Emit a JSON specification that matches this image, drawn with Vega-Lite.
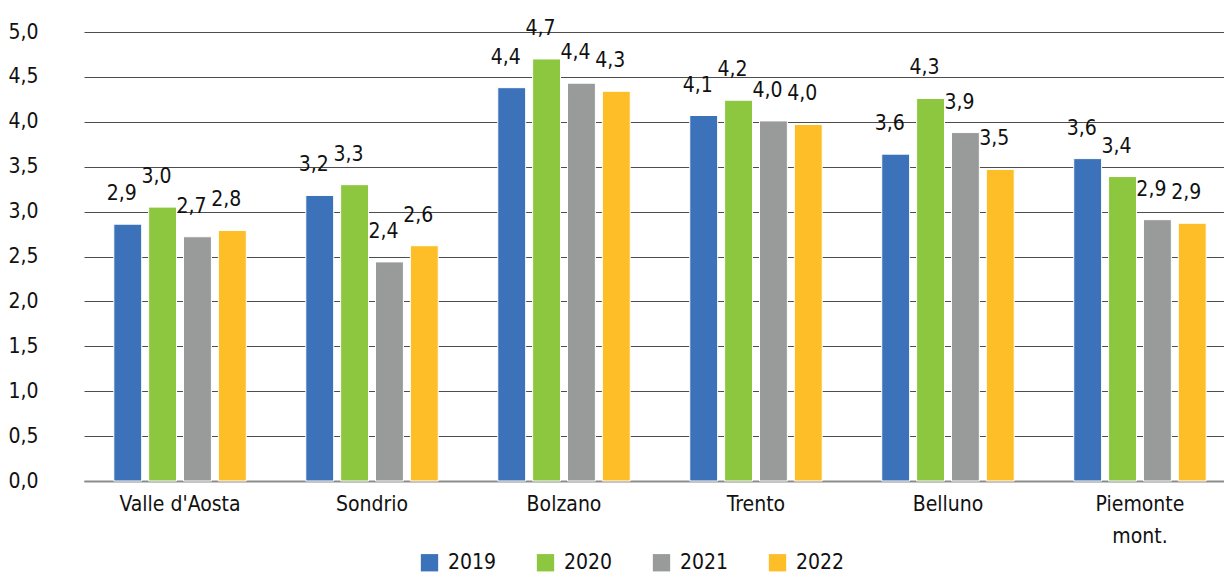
{
  "$schema": "https://vega.github.io/schema/vega-lite/v6.json",
  "width": 1140,
  "height": 449,
  "autosize": {"type": "none"},
  "padding": {"left": 84, "top": 32, "right": 0, "bottom": 93},
  "config": {
    "locale": {"number": {"decimal": ",", "thousands": ".", "grouping": [3], "currency": ["", " €"]}},
    "font": "DejaVu Sans Condensed, sans-serif",
    "view": {"stroke": null}
  },
  "data": {
    "values": [
      {"area": "Valle d'Aosta", "year": "2019", "value": 2.86},
      {"area": "Valle d'Aosta", "year": "2020", "value": 3.05},
      {"area": "Valle d'Aosta", "year": "2021", "value": 2.72},
      {"area": "Valle d'Aosta", "year": "2022", "value": 2.79},
      {"area": "Sondrio", "year": "2019", "value": 3.18},
      {"area": "Sondrio", "year": "2020", "value": 3.30},
      {"area": "Sondrio", "year": "2021", "value": 2.44},
      {"area": "Sondrio", "year": "2022", "value": 2.62},
      {"area": "Bolzano", "year": "2019", "value": 4.38},
      {"area": "Bolzano", "year": "2020", "value": 4.70},
      {"area": "Bolzano", "year": "2021", "value": 4.43},
      {"area": "Bolzano", "year": "2022", "value": 4.34},
      {"area": "Trento", "year": "2019", "value": 4.07},
      {"area": "Trento", "year": "2020", "value": 4.24},
      {"area": "Trento", "year": "2021", "value": 4.01},
      {"area": "Trento", "year": "2022", "value": 3.97},
      {"area": "Belluno", "year": "2019", "value": 3.64},
      {"area": "Belluno", "year": "2020", "value": 4.26},
      {"area": "Belluno", "year": "2021", "value": 3.88},
      {"area": "Belluno", "year": "2022", "value": 3.47},
      {"area": "Piemonte mont.", "year": "2019", "value": 3.59},
      {"area": "Piemonte mont.", "year": "2020", "value": 3.39},
      {"area": "Piemonte mont.", "year": "2021", "value": 2.91},
      {"area": "Piemonte mont.", "year": "2022", "value": 2.87}
    ]
  },
  "encoding": {
    "x": {
      "field": "area", "type": "nominal", "sort": null, "title": null,
      "scale": {"paddingInner": 0.31, "paddingOuter": 0.124, "align": 0.626},
      "axis": {
        "labelAngle": 0, "labelFontSize": 21, "labelColor": "#111111",
        "labelPadding": 12, "ticks": false, "domainColor": "#8c8c8c", "domainWidth": 2,
        "labelLineHeight": 32, "labelBaseline": "top",
        "labelExpr": "datum.label == 'Piemonte mont.' ? ['Piemonte', 'mont.'] : datum.label"
      }
    },
    "xOffset": {"field": "year", "type": "nominal", "scale": {"paddingInner": 0.2, "paddingOuter": 0}},
    "y": {
      "field": "value", "type": "quantitative", "title": null,
      "scale": {"domain": [0, 5], "nice": false},
      "axis": {
        "values": [0, 0.5, 1, 1.5, 2, 2.5, 3, 3.5, 4, 4.5, 5],
        "format": ".1f", "labelFontSize": 21, "labelColor": "#111111",
        "labelPadding": 46, "ticks": false, "domain": false,
        "gridColor": "#4d4d4d", "gridWidth": 1
      }
    }
  },
  "layer": [
    {
      "mark": {"type": "bar", "stroke": "white", "strokeWidth": 1},
      "encoding": {
        "color": {
          "field": "year", "type": "nominal", "title": null,
          "scale": {"domain": ["2019", "2020", "2021", "2022"], "range": ["#3C72BA", "#8DC63F", "#999B9B", "#FDBE27"]},
          "legend": {
            "orient": "none", "direction": "horizontal", "legendX": 335, "legendY": 520,
            "symbolType": "square", "symbolSize": 300, "symbolStrokeWidth": 0,
            "labelFontSize": 21, "labelColor": "#111111", "labelOffset": 8,
            "columnPadding": 38
          }
        }
      }
    },
    {
      "mark": {"type": "text", "baseline": "middle", "align": "center", "dx": -6, "dy": -30, "fontSize": 21, "color": "#111111"},
      "encoding": {
        "text": {"field": "value", "type": "quantitative", "format": ".1f"}
      }
    }
  ]
}
